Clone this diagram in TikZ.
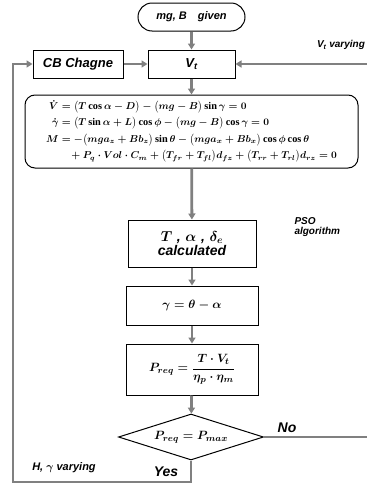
\documentclass[tikz,border=0pt]{standalone}
\usepackage{amsmath}
\usepackage{fontspec}
\setmainfont{Liberation Serif}
\setsansfont{Liberation Sans}
\usetikzlibrary{arrows.meta, shapes.geometric}

\definecolor{flowgray}{RGB}{128,128,128}
\newsavebox{\eqsbox}

\begin{document}
\sbox{\eqsbox}{\fontsize{10.3}{13.5}\selectfont\boldmath
 $\begin{aligned}
  \dot{V} &= \bigl(T\cos\alpha - D\bigr) - \bigl(mg - B\bigr)\sin\gamma = 0\\
  \dot{\gamma} &= \bigl(T\sin\alpha + L\bigr)\cos\phi - \bigl(mg - B\bigr)\cos\gamma = 0\\
  M &= -\bigl(mga_z + Bb_z\bigr)\sin\theta - \bigl(mga_x + Bb_x\bigr)\cos\phi\cos\theta\\
    &\quad + P_q\cdot Vol\cdot C_m + \bigl(T_{fr} + T_{fl}\bigr)d_{fz} + \bigl(T_{rr} + T_{rl}\bigr)d_{rz} = 0
 \end{aligned}$}%
\begin{tikzpicture}[x=1pt, y=-1pt, >={Triangle[width=7pt,length=6pt]},
    box/.style={draw, line width=1pt, inner sep=1pt},
    flow/.style={flowgray, line width=2.8pt},
    lbl/.style={font=\sffamily\bfseries\itshape\fontsize{#1}{#1}\selectfont},
    lbl/.default=10]
                \useasboundingbox (0,0) rectangle (367,485);

                % Inicio
                \node[box, lbl=11, minimum width=107pt, minimum height=28pt, rounded corners=14pt] (start) at (191.5,17) {mg, B\quad given};

                % Velocidad
                \node[box, lbl=13, minimum width=87pt, minimum height=28pt] (vt) at (191.5,64) {V\textsubscript{t}};
                \node[box, lbl=13, minimum width=90pt, minimum height=28pt] (cb) at (78,64) {CB Chagne};

                % Ecuaciones de equilibrio
                \node[box, minimum width=333pt, minimum height=73pt, rounded corners=10pt] (eqs) at (191.5,131.5) {\usebox{\eqsbox}};

                % Resultados
                \node[box, lbl=14, align=center, text width=126pt, minimum height=47pt] (calc) at (192,243.5) {{\boldmath $T$ , $\alpha$ , $\delta_{e}$\par calculated}};
                \node[box, minimum width=132pt, minimum height=39pt] (gam) at (192,305.5) {{\fontsize{13}{15}\selectfont\boldmath $\gamma = \theta - \alpha$}};
                \node[box, minimum width=132pt, minimum height=51pt] (preq) at (192,369.5) {{\fontsize{13}{15}\selectfont\boldmath $P_{req} = \dfrac{T\cdot V_t}{\eta_p\cdot\eta_m}$}};

                % Decision
                \node[draw, diamond, aspect=3.15, line width=1pt, inner sep=0pt, minimum width=145pt, minimum height=46pt] (dec) at (191,437) {{\fontsize{13}{15}\selectfont\boldmath $P_{req} = P_{max}$}};

                % Conexiones
                \coordinate (vin) at (367,64);
                \coordinate (nout) at (367,437);
                \coordinate (loop) at (13,482);
                \draw[flow, ->] (start) -- (vt);
                \draw[flow, ->] (vt) -- (eqs);
                \draw[flow, ->] (eqs) -- (calc);
                \draw[flow, ->] (calc) -- (gam);
                \draw[flow, ->] (gam) -- (preq);
                \draw[flow, ->] (preq) -- (dec);
                \draw[flow, ->] (cb) -- (vt);
                \draw[flow, ->] (vin) -- (vt);
                \draw[flow] (dec.east) -- (nout);
                \draw[flow, ->] (dec.south) |- (loop) |- (cb.west);

                % Etiquetas
                \node[lbl=10] (vlab) at (341,45) {V\textsubscript{t} varying};
                \node[lbl=10, anchor=west, align=left, text width=60pt] (pso) at (291,227) {PSO\par algorithm};
                \node[lbl=14] (no) at (287,428) {No};
                \node[lbl=14] (yes) at (166,472) {Yes};
                \node[lbl=11] (hg) at (64,468) {H, {\boldmath$\gamma$} varying};
            \end{tikzpicture}
\end{document}
